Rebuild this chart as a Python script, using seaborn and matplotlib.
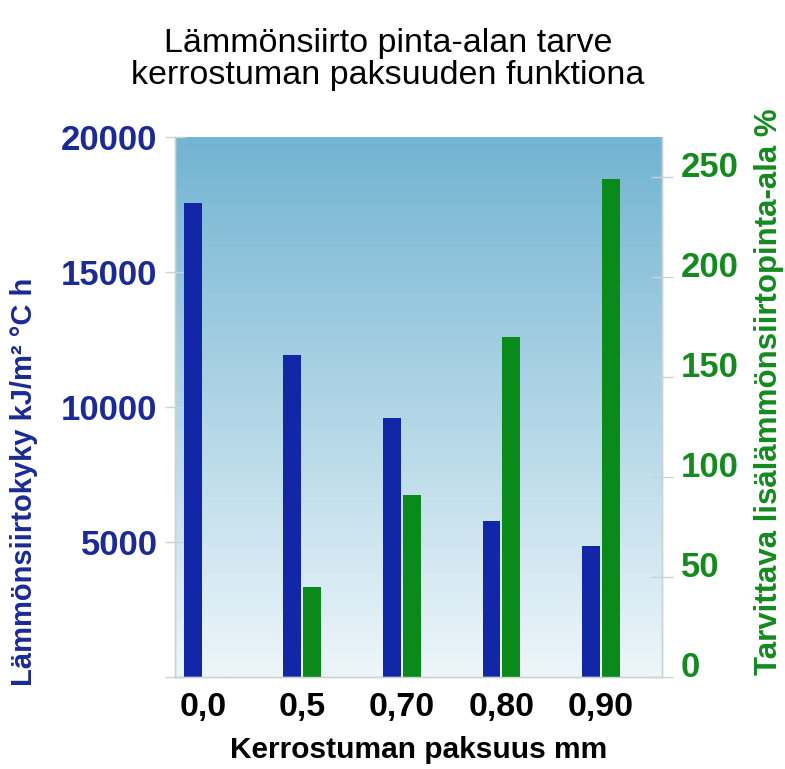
import numpy as np
import pandas as pd
import matplotlib.pyplot as plt
from matplotlib.colors import LinearSegmentedColormap
import seaborn as sns

# Data
paksuus = ['0,0', '0,5', '0,70', '0,80', '0,90']
lammonsiirtokyky = [17550, 11900, 9570, 5750, 4850]
lisapinta_ala = [np.nan, 45, 91, 170, 249]

left_ticks = [0, 5000, 10000, 15000, 20000]
left_labels = ['', '5000', '10000', '15000', '20000']
right_ticks = [0, 50, 100, 150, 200, 250]
right_labels = ['0', '50', '100', '150', '200', '250']

title = 'Lämmönsiirto pinta-alan tarve\nkerrostuman paksuuden funktiona'
xlabel = 'Kerrostuman paksuus mm'
ylabel_left = 'Lämmönsiirtokyky kJ/m² °C h'
ylabel_right = 'Tarvittava lisälämmönsiirtopinta-ala %'

sns.set_style('white')
plt.rcParams['font.family'] = ['Liberation Sans', 'DejaVu Sans']

blue_bar = '#1226a8'
blue_txt = '#1b2a94'
green_bar = '#0a8a1a'
green_txt = '#148a1f'
grey = '#cad3d3'

fig = plt.figure(figsize=(7.85, 7.69), dpi=100)
ax = fig.add_axes([0.2229, 0.12, 0.62, 0.7022])
ax2 = ax.twinx()

df_blue = pd.DataFrame({'paksuus': paksuus, 'arvo': lammonsiirtokyky, 'sarja': 'kyky'})
df_green = pd.DataFrame({'paksuus': paksuus, 'arvo': lisapinta_ala, 'sarja': 'ala'}).dropna()

hue_order = ['kyky', 'ala']
pal = {'kyky': blue_bar, 'ala': green_bar}
sns.barplot(data=df_blue, x='paksuus', y='arvo', hue='sarja', order=paksuus,
            hue_order=hue_order, palette=pal, width=0.4, gap=0.1, saturation=1,
            dodge=True, legend=False, ax=ax, zorder=2, linewidth=0)
sns.barplot(data=df_green, x='paksuus', y='arvo', hue='sarja', order=paksuus,
            hue_order=hue_order, palette=pal, width=0.4, gap=0.1, saturation=1,
            dodge=True, legend=False, ax=ax2, zorder=2, linewidth=0)

xmin, xmax = -0.28, 4.61

# background gradient, blue at top fading to white
cmap = LinearSegmentedColormap.from_list('bg', ['#eef6fa', '#72b4d2'])
grad = np.linspace(0, 1, 256).reshape(-1, 1)
ax.imshow(grad, extent=[xmin, xmax, 0, 20000], origin='lower', aspect='auto',
          cmap=cmap, zorder=0)

ax.set_xlim(xmin, xmax)
ax.set_ylim(0, 20000)
ax2.set_ylim(0, 270)

ax.set_yticks(left_ticks, left_labels, fontweight='bold', color=blue_txt, fontsize=25)
ax2.set_yticks(right_ticks, right_labels, fontweight='bold', color=green_txt,
               fontsize=25, va='baseline')
ax.set_xticks(range(len(paksuus)), paksuus, fontweight='bold', fontsize=24.5,
              color='black')

ax.tick_params(axis='y', direction='inout', length=15, width=1, color=grey, pad=5)
ax2.tick_params(axis='y', direction='inout', length=16, width=1, color=grey, pad=6)
ax.tick_params(axis='x', length=0, pad=11)

for a in (ax, ax2):
    a.spines['top'].set_visible(False)
    for s in ('left', 'right', 'bottom'):
        a.spines[s].set_color(grey)
        a.spines[s].set_linewidth(1)

ax.set_xlabel(xlabel, fontweight='bold', fontsize=21.5, va='center', color='black')
ax.xaxis.set_label_coords(0.5, -0.136)
ax.set_ylabel(ylabel_left, fontweight='bold', fontsize=21, color=blue_txt,
              va='center', ha='center')
ax.yaxis.set_label_coords(-0.31, 0.36)
ax2.set_ylabel(ylabel_right, fontweight='bold', fontsize=22.5, color=green_txt,
               rotation=90, va='center', ha='center')
ax2.yaxis.set_label_coords(1.2215, 0.527)

ax.set_title(title, fontsize=24.5, x=0.4377, y=1.127, va='center', linespacing=1.05,
             color='black')

fig.savefig('out.png', dpi=100)
